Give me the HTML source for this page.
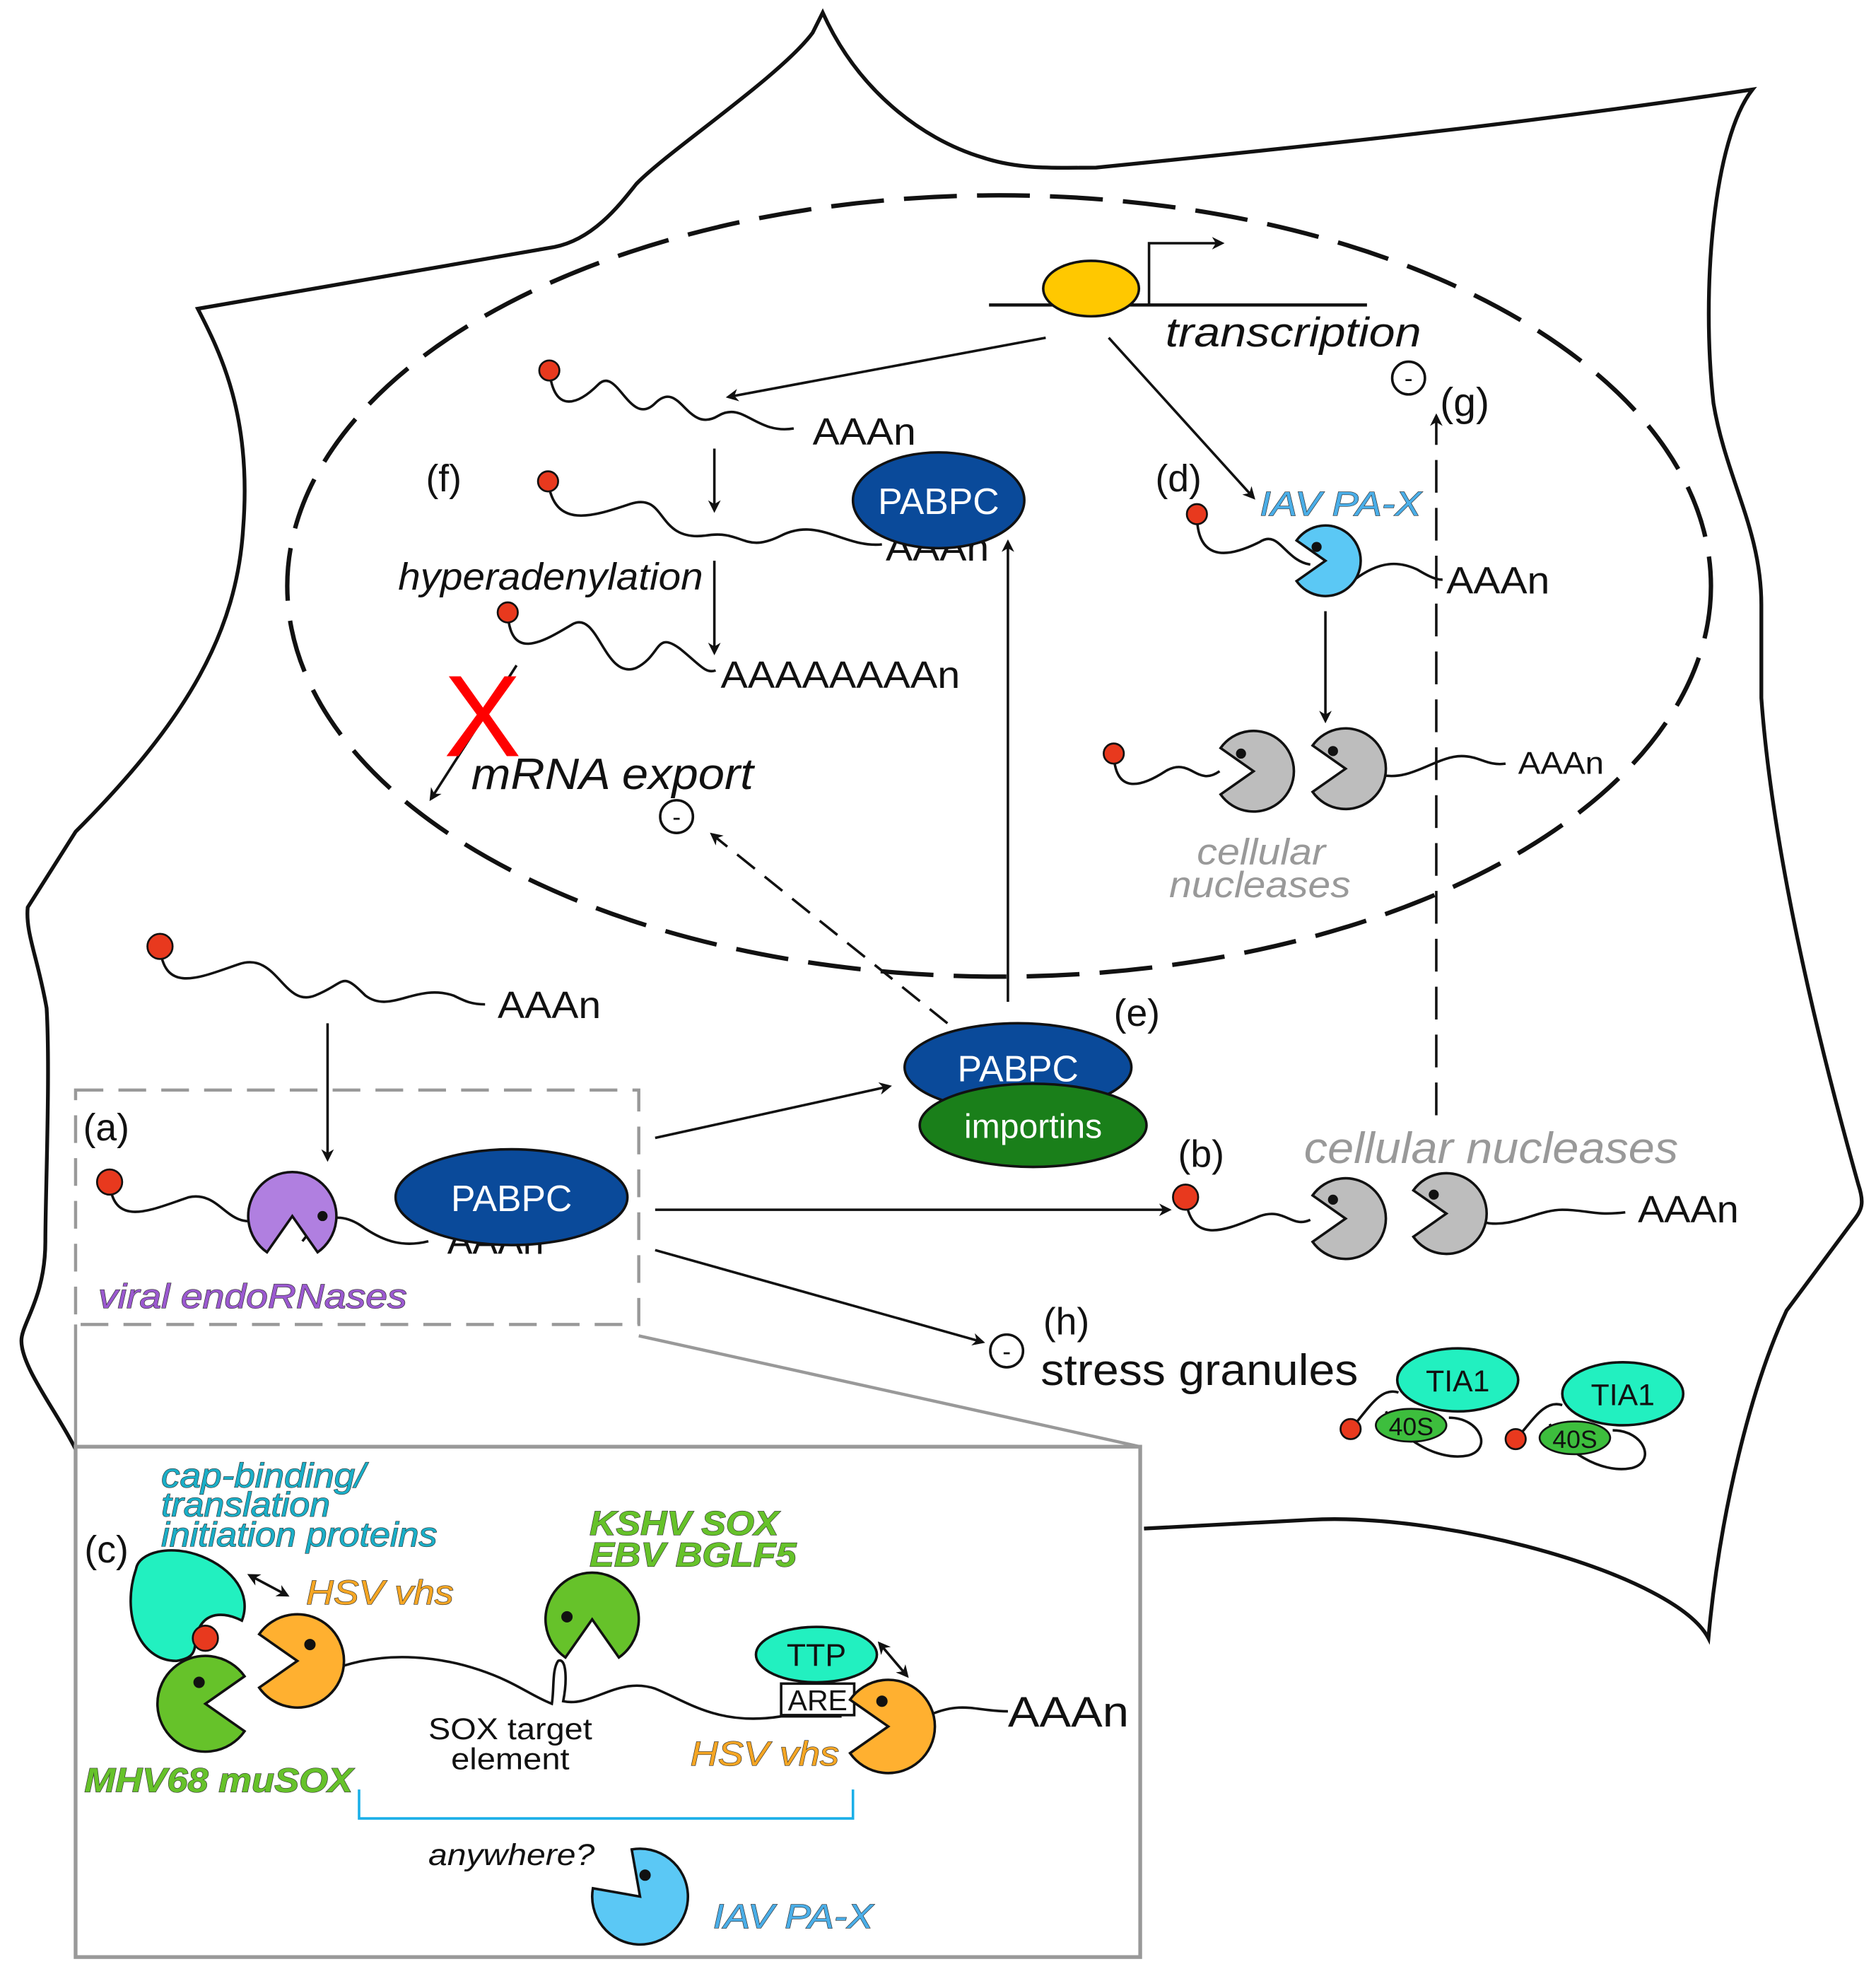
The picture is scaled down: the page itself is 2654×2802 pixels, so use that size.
<!DOCTYPE html>
<html><head><meta charset="utf-8"><style>
html,body{margin:0;padding:0;background:#fff}
svg{display:block}
text{font-family:"Liberation Sans",Arial,sans-serif;fill:#111}
.it{font-style:italic}
.ol{stroke:#333;stroke-width:0.7;paint-order:stroke}
</style></head><body>
<svg width="2654" height="2802" viewBox="0 0 1489 1572" preserveAspectRatio="none" xmlns="http://www.w3.org/2000/svg">
<defs>
<marker id="ah" markerWidth="10" markerHeight="10" refX="8" refY="5" orient="auto" markerUnits="userSpaceOnUse"><path d="M0,0 L10,5 L0,10 L3,5 Z" fill="#111"/></marker>
<marker id="as" markerWidth="10" markerHeight="10" refX="2" refY="5" orient="auto" markerUnits="userSpaceOnUse"><path d="M10,0 L0,5 L10,10 L7,5 Z" fill="#111"/></marker>
</defs>
<rect width="1489" height="1572" fill="#fff"/>

<!-- cell outline -->
<path d="M60,1150 C45,1120 17,1085 17,1064 C17,1050 36,1030 36,985 C36,950 40,850 37,800 C30,760 20,740 22,720 L60,660 C150,570 188,500 193,419 C200,330 175,280 157,245 L440,196 C470,190 490,165 505,146 C530,120 620,60 645,26 L653,10 C680,70 730,110 780,125 C810,135 840,133 870,133 C1000,120 1200,100 1391,71 C1360,110 1350,230 1360,320 C1370,380 1398,420 1398,480 L1398,554 C1405,650 1430,780 1475,940 C1480,955 1478,960 1470,970 L1418,1040 C1390,1100 1365,1200 1356,1300 C1330,1250 1150,1200 1040,1206 L908,1213" fill="none" stroke="#111" stroke-width="3"/>

<!-- nucleus -->
<ellipse cx="793" cy="465" rx="565" ry="310" fill="none" stroke="#111" stroke-width="3.5" stroke-dasharray="42,16"/>

<!-- transcription -->
<line x1="785" y1="242" x2="1085" y2="242" stroke="#111" stroke-width="2.5"/>
<polyline points="912,242 912,193 970,193" fill="none" stroke="#111" stroke-width="2" marker-end="url(#ah)"/>
<ellipse cx="866" cy="229" rx="38" ry="22" fill="#FFC800" stroke="#111" stroke-width="2"/>
<text x="925" y="275" font-size="33" class="it" textLength="203" lengthAdjust="spacingAndGlyphs">transcription</text>
<circle cx="1118" cy="300" r="13" fill="#fff" stroke="#111" stroke-width="2"/><text x="1118" y="307" font-size="20" text-anchor="middle">-</text>
<text x="1143" y="330" font-size="32">(g)</text>

<line x1="830" y1="268" x2="578" y2="315" stroke="#111" stroke-width="2" marker-end="url(#ah)"/>
<path d="M436,294 C440,330 460,320 475,305 C490,290 500,340 520,320 C540,300 545,345 570,330 C590,318 600,345 630,340" fill="none" stroke="#111" stroke-width="2"/>
<circle cx="436" cy="294" r="8" fill="#E8391E" stroke="#111" stroke-width="1.5"/>
<text x="645" y="353" font-size="30" textLength="82" lengthAdjust="spacingAndGlyphs">AAAn</text>
<line x1="567" y1="356" x2="567" y2="405" stroke="#111" stroke-width="2" marker-end="url(#ah)"/>
<text x="338" y="390" font-size="30">(f)</text>
<path d="M435,382 C440,420 470,410 500,400 C530,390 520,430 560,425 C590,420 590,440 620,425 C650,410 670,435 700,432" fill="none" stroke="#111" stroke-width="2"/>
<circle cx="435" cy="382" r="8" fill="#E8391E" stroke="#111" stroke-width="1.5"/>
<text x="703" y="445" font-size="30" textLength="82" lengthAdjust="spacingAndGlyphs">AAAn</text>
<ellipse cx="745" cy="397" rx="68" ry="38" fill="#0A4A9A" stroke="#111" stroke-width="2"/>
<text x="745" y="408" font-size="29" text-anchor="middle" style="fill:#fff">PABPC</text>
<text x="316" y="468" font-size="30" class="it" textLength="242" lengthAdjust="spacingAndGlyphs">hyperadenylation</text>
<line x1="567" y1="445" x2="567" y2="518" stroke="#111" stroke-width="2" marker-end="url(#ah)"/>
<path d="M403,486 C405,525 430,510 455,495 C475,485 480,540 505,530 C525,520 520,500 540,515 C555,527 560,535 568,532" fill="none" stroke="#111" stroke-width="2"/>
<circle cx="403" cy="486" r="8" fill="#E8391E" stroke="#111" stroke-width="1.5"/>
<text x="572" y="546" font-size="30" textLength="190" lengthAdjust="spacingAndGlyphs">AAAAAAAAn</text>
<line x1="410" y1="528" x2="342" y2="634" stroke="#111" stroke-width="2" marker-end="url(#ah)"/>
<text x="383" y="600" font-size="92" text-anchor="middle" style="fill:#FF0000">X</text>
<text x="374" y="626" font-size="35" class="it" textLength="224" lengthAdjust="spacingAndGlyphs">mRNA export</text>
<circle cx="537" cy="648" r="13" fill="#fff" stroke="#111" stroke-width="2"/><text x="537" y="655" font-size="20" text-anchor="middle">-</text>
<line x1="752" y1="812" x2="565" y2="662" stroke="#111" stroke-width="2" stroke-dasharray="18,10" marker-end="url(#ah)"/>
<line x1="800" y1="795" x2="800" y2="430" stroke="#111" stroke-width="2" marker-end="url(#ah)"/>

<!-- (d) -->
<text x="917" y="390" font-size="30">(d)</text>
<line x1="880" y1="268" x2="995" y2="395" stroke="#111" stroke-width="2" marker-end="url(#ah)"/>
<text x="1000" y="409" font-size="27" class="it ol" style="fill:#4AAEE8" textLength="128" lengthAdjust="spacingAndGlyphs">IAV PA-X</text>
<path d="M950,408 C950,450 980,440 1000,430 C1015,420 1020,445 1040,448 M1075,460 C1095,445 1110,445 1125,452 C1135,458 1140,460 1145,460" fill="none" stroke="#111" stroke-width="2"/>
<circle cx="950" cy="408" r="8" fill="#E8391E" stroke="#111" stroke-width="1.5"/>
<path d="M1029.1,428.9 A28,28 0 1 1 1029.1,461.1 L1052,445 Z" fill="#5BC8F5" stroke="#111" stroke-width="2"/>
<circle cx="1045" cy="434" r="4" fill="#111"/>
<text x="1148" y="471" font-size="30" textLength="82" lengthAdjust="spacingAndGlyphs">AAAn</text>
<line x1="1052" y1="485" x2="1052" y2="572" stroke="#111" stroke-width="2" marker-end="url(#ah)"/>
<line x1="1140" y1="885" x2="1140" y2="330" stroke="#111" stroke-width="2" stroke-dasharray="26,12" marker-end="url(#ah)"/>
<path d="M884,598 C885,630 905,625 925,612 C945,600 950,625 968,612 M1097,615 C1120,620 1140,600 1160,600 C1175,600 1180,608 1195,606" fill="none" stroke="#111" stroke-width="2"/>
<circle cx="884" cy="598" r="8" fill="#E8391E" stroke="#111" stroke-width="1.5"/>
<path d="M968.8,593.6 A32,32 0 1 1 968.8,630.4 L995,612 Z" fill="#BDBDBD" stroke="#111" stroke-width="2"/>
<circle cx="985" cy="598" r="4" fill="#111"/>
<path d="M1041.8,591.6 A32,32 0 1 1 1041.8,628.4 L1068,610 Z" fill="#BDBDBD" stroke="#111" stroke-width="2"/>
<circle cx="1058" cy="596" r="4" fill="#111"/>
<text x="1205" y="614" font-size="25" textLength="68" lengthAdjust="spacingAndGlyphs">AAAn</text>
<text x="950" y="686" font-size="29" class="it" style="fill:#999" textLength="102" lengthAdjust="spacingAndGlyphs">cellular</text>
<text x="928" y="712" font-size="29" class="it" style="fill:#999" textLength="144" lengthAdjust="spacingAndGlyphs">nucleases</text>

<!-- cytoplasm mRNA -->
<path d="M127,751 C130,790 160,775 190,765 C220,755 225,800 250,790 C275,780 270,770 290,790 C310,805 330,780 360,790 C370,795 375,797 385,797" fill="none" stroke="#111" stroke-width="2"/>
<circle cx="127" cy="751" r="10" fill="#E8391E" stroke="#111" stroke-width="1.5"/>
<text x="395" y="808" font-size="30" textLength="82" lengthAdjust="spacingAndGlyphs">AAAn</text>
<line x1="260" y1="812" x2="260" y2="920" stroke="#111" stroke-width="2" marker-end="url(#ah)"/>

<!-- (a) box -->
<rect x="60" y="865" width="447" height="186" fill="none" stroke="#999" stroke-width="2.5" stroke-dasharray="22,12"/>
<text x="66" y="905" font-size="30">(a)</text>
<path d="M87,938 C90,975 120,960 150,950 C175,945 180,975 205,968 M240,985 C255,965 270,960 290,975 C305,985 320,990 340,985" fill="none" stroke="#111" stroke-width="2"/>
<circle cx="87" cy="938" r="10" fill="#E8391E" stroke="#111" stroke-width="1.5"/>
<path d="M211.9,993.7 A35,35 0 1 1 252.1,993.7 L232,965 Z" fill="#B07FE0" stroke="#111" stroke-width="2"/>
<circle cx="256" cy="965" r="4" fill="#111"/>
<text x="355" y="995" font-size="30">AAAn</text>
<ellipse cx="406" cy="950" rx="92" ry="38" fill="#0A4A9A" stroke="#111" stroke-width="2"/>
<text x="406" y="961" font-size="29" text-anchor="middle" style="fill:#fff">PABPC</text>
<text x="78" y="1038" font-size="27" class="it ol" style="fill:#9B59D0" textLength="245" lengthAdjust="spacingAndGlyphs">viral endoRNases</text>

<!-- (e) -->
<line x1="520" y1="903" x2="706" y2="862" stroke="#111" stroke-width="2" marker-end="url(#ah)"/>
<text x="884" y="814" font-size="30">(e)</text>
<ellipse cx="808" cy="847" rx="90" ry="35" fill="#0A4A9A" stroke="#111" stroke-width="2"/>
<text x="808" y="858" font-size="29" text-anchor="middle" style="fill:#fff">PABPC</text>
<ellipse cx="820" cy="893" rx="90" ry="33" fill="#1A7F1A" stroke="#111" stroke-width="2"/>
<text x="820" y="903" font-size="27" text-anchor="middle" style="fill:#fff">importins</text>

<!-- (b) -->
<line x1="520" y1="960" x2="928" y2="960" stroke="#111" stroke-width="2" marker-end="url(#ah)"/>
<text x="935" y="926" font-size="30">(b)</text>
<text x="1035" y="923" font-size="35" class="it" style="fill:#999" textLength="297" lengthAdjust="spacingAndGlyphs">cellular nucleases</text>
<path d="M941,950 C945,990 975,975 1000,965 C1020,958 1025,975 1040,968 M1178,970 C1200,975 1220,960 1240,960 C1260,960 1265,965 1290,962" fill="none" stroke="#111" stroke-width="2"/>
<circle cx="941" cy="950" r="10" fill="#E8391E" stroke="#111" stroke-width="1.5"/>
<path d="M1041.8,948.6 A32,32 0 1 1 1041.8,985.4 L1068,967 Z" fill="#BDBDBD" stroke="#111" stroke-width="2"/>
<circle cx="1058" cy="952" r="4" fill="#111"/>
<path d="M1121.8,944.6 A32,32 0 1 1 1121.8,981.4 L1148,963 Z" fill="#BDBDBD" stroke="#111" stroke-width="2"/>
<circle cx="1138" cy="948" r="4" fill="#111"/>
<text x="1300" y="970" font-size="30" textLength="80" lengthAdjust="spacingAndGlyphs">AAAn</text>

<!-- (h) -->
<line x1="520" y1="992" x2="780" y2="1065" stroke="#111" stroke-width="2" marker-end="url(#ah)"/>
<circle cx="799" cy="1072" r="13" fill="#fff" stroke="#111" stroke-width="2"/><text x="799" y="1079" font-size="20" text-anchor="middle">-</text>
<text x="828" y="1059" font-size="30">(h)</text>
<text x="826" y="1099" font-size="35" textLength="252" lengthAdjust="spacingAndGlyphs">stress granules</text>
<path d="M1072,1134 C1085,1120 1095,1100 1110,1105 M1100,1120 C1110,1140 1140,1160 1165,1155 C1185,1150 1175,1125 1150,1125" fill="none" stroke="#111" stroke-width="2"/>
<ellipse cx="1120" cy="1131" rx="28" ry="13" fill="#3DBE3D" stroke="#111" stroke-width="1.5"/>
<text x="1120" y="1139" font-size="20" text-anchor="middle">40S</text>
<circle cx="1072" cy="1134" r="8" fill="#E8391E" stroke="#111" stroke-width="1.5"/>
<ellipse cx="1157" cy="1095" rx="48" ry="25" fill="#22F0C0" stroke="#111" stroke-width="2"/>
<text x="1157" y="1104" font-size="24" text-anchor="middle">TIA1</text>
<path d="M1203,1142 C1215,1130 1225,1110 1240,1115 M1230,1130 C1240,1150 1270,1170 1295,1165 C1315,1160 1305,1135 1280,1135" fill="none" stroke="#111" stroke-width="2"/>
<ellipse cx="1250" cy="1141" rx="28" ry="13" fill="#3DBE3D" stroke="#111" stroke-width="1.5"/>
<text x="1250" y="1149" font-size="20" text-anchor="middle">40S</text>
<circle cx="1203" cy="1142" r="8" fill="#E8391E" stroke="#111" stroke-width="1.5"/>
<ellipse cx="1288" cy="1106" rx="48" ry="25" fill="#22F0C0" stroke="#111" stroke-width="2"/>
<text x="1288" y="1115" font-size="24" text-anchor="middle">TIA1</text>

<!-- inset connectors -->
<line x1="507" y1="1060" x2="905" y2="1148" stroke="#999" stroke-width="2.5"/>
<line x1="60" y1="1051" x2="60" y2="1148" stroke="#999" stroke-width="2.5"/>
<rect x="60" y="1148" width="845" height="405" fill="#fff" stroke="#999" stroke-width="3"/>

<!-- (c) inset -->
<text x="67" y="1240" font-size="30">(c)</text>
<text x="128" y="1180" font-size="27" class="it ol" style="fill:#1AAFC8" textLength="162" lengthAdjust="spacingAndGlyphs">cap-binding/</text>
<text x="128" y="1203" font-size="27" class="it ol" style="fill:#1AAFC8" textLength="134" lengthAdjust="spacingAndGlyphs">translation</text>
<text x="128" y="1227" font-size="27" class="it ol" style="fill:#1AAFC8" textLength="219" lengthAdjust="spacingAndGlyphs">initiation proteins</text>
<path d="M108,1245 C110,1232 135,1225 160,1235 C185,1245 200,1265 192,1286 C180,1280 165,1278 158,1292 C152,1305 160,1315 140,1318 C110,1318 96,1280 108,1245 Z" fill="#22F0C0" stroke="#111" stroke-width="2"/>
<line x1="198" y1="1250" x2="228" y2="1266" stroke="#111" stroke-width="2" marker-start="url(#as)" marker-end="url(#ah)"/>
<text x="243" y="1273" font-size="27" class="it ol" style="fill:#F5A623" textLength="117" lengthAdjust="spacingAndGlyphs">HSV vhs</text>
<path d="M194.1,1373.8 A38,38 0 1 1 194.1,1330.2 L163,1352 Z" fill="#66C22A" stroke="#111" stroke-width="2"/>
<circle cx="158" cy="1335" r="4.5" fill="#111"/>
<circle cx="163" cy="1300" r="10" fill="#E8391E" stroke="#111" stroke-width="1.5"/>
<path d="M205.7,1296.8 A37,37 0 1 1 205.7,1339.2 L236,1318 Z" fill="#FFB030" stroke="#111" stroke-width="2"/>
<circle cx="246" cy="1305" r="4.5" fill="#111"/>
<path d="M272,1322 C310,1310 350,1315 380,1325 C410,1335 420,1345 438,1352 C440,1340 438,1325 443,1318 C450,1315 450,1335 447,1350 C470,1355 490,1330 520,1340 C545,1350 570,1370 620,1362 L668,1362 M740,1360 C765,1350 775,1358 800,1358" fill="none" stroke="#111" stroke-width="2"/>
<path d="M448.8,1315.3 A37,37 0 1 1 491.2,1315.3 L470,1285 Z" fill="#66C22A" stroke="#111" stroke-width="2"/>
<circle cx="450" cy="1283" r="4.5" fill="#111"/>
<text x="468" y="1218" font-size="27" class="it ol" style="fill:#66C22A;font-weight:bold" textLength="150" lengthAdjust="spacingAndGlyphs">KSHV SOX</text>
<text x="468" y="1243" font-size="27" class="it ol" style="fill:#66C22A;font-weight:bold" textLength="164" lengthAdjust="spacingAndGlyphs">EBV BGLF5</text>
<text x="405" y="1380" font-size="24" text-anchor="middle" textLength="130" lengthAdjust="spacingAndGlyphs">SOX target</text>
<text x="405" y="1404" font-size="24" text-anchor="middle" textLength="94" lengthAdjust="spacingAndGlyphs">element</text>
<ellipse cx="648" cy="1313" rx="48" ry="22" fill="#22F0C0" stroke="#111" stroke-width="2"/>
<text x="648" y="1322" font-size="25" text-anchor="middle">TTP</text>
<rect x="620" y="1336" width="58" height="25" fill="#fff" stroke="#111" stroke-width="2"/>
<text x="649" y="1357" font-size="23" text-anchor="middle">ARE</text>
<line x1="698" y1="1304" x2="720" y2="1330" stroke="#111" stroke-width="2" marker-start="url(#as)" marker-end="url(#ah)"/>
<path d="M674.7,1348.8 A37,37 0 1 1 674.7,1391.2 L705,1370 Z" fill="#FFB030" stroke="#111" stroke-width="2"/>
<circle cx="700" cy="1350" r="4.5" fill="#111"/>
<text x="800" y="1370" font-size="34" textLength="96" lengthAdjust="spacingAndGlyphs">AAAn</text>
<text x="548" y="1401" font-size="27" class="it ol" style="fill:#F5A623" textLength="118" lengthAdjust="spacingAndGlyphs">HSV vhs</text>
<text x="67" y="1422" font-size="27" class="it ol" style="fill:#66C22A;font-weight:bold" textLength="213" lengthAdjust="spacingAndGlyphs">MHV68 muSOX</text>
<polyline points="285,1420 285,1443 677,1443 677,1420" fill="none" stroke="#1AAFE8" stroke-width="2"/>
<text x="340" y="1480" font-size="24" class="it" textLength="132" lengthAdjust="spacingAndGlyphs">anywhere?</text>
<path d="M501.4,1467.6 A38,38 0 1 1 470.6,1498.4 L508,1505 Z" fill="#5BC8F5" stroke="#111" stroke-width="2"/>
<circle cx="512" cy="1488" r="4.5" fill="#111"/>
<text x="566" y="1530" font-size="27" class="it ol" style="fill:#4AAEE8" textLength="127" lengthAdjust="spacingAndGlyphs">IAV PA-X</text>
</svg>
</body></html>
